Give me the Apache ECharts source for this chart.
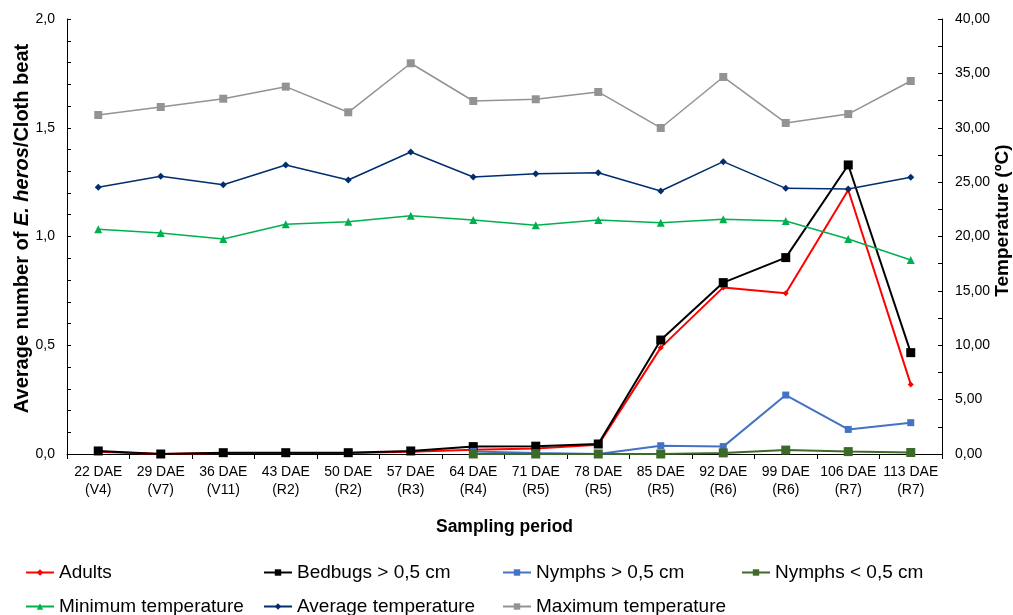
<!DOCTYPE html>
<html>
<head>
<meta charset="utf-8">
<script src="https://cdn.jsdelivr.net/npm/echarts@6/dist/echarts.min.js"></script>
<style>
    html, body { margin: 0; padding: 0; background: #fff; }
    #chart_graphic { width: 1013px; height: 615px; }
</style>
</head>
<body>
<div id="chart_graphic"></div>
<script>
/*
    data
        categories
        series (left axis: insects, right axis: temperature)
*/
const categories = ['22 DAE\n(V4)', '29 DAE\n(V7)', '36 DAE\n(V11)', '43 DAE\n(R2)', '50 DAE\n(R2)', '57 DAE\n(R3)', '64 DAE\n(R4)',
    '71 DAE\n(R5)', '78 DAE\n(R5)', '85 DAE\n(R5)', '92 DAE\n(R6)', '99 DAE\n(R6)', '106 DAE\n(R7)', '113 DAE\n(R7)'];

const adults = [0.010, 0, 0.005, 0.005, 0.005, 0.010, 0.020, 0.025, 0.042, 0.489, 0.766, 0.739, 1.214, 0.320];
const bedbugs = [0.014, 0, 0.006, 0.006, 0.006, 0.014, 0.034, 0.036, 0.046, 0.524, 0.788, 0.903, 1.329, 0.466];
const nymphs_large = [null, null, null, null, null, null, 0.012, 0.005, 0, 0.038, 0.034, 0.271, 0.113, 0.144];
const nymphs_small = [null, null, null, null, null, null, 0, 0, 0, 0, 0.005, 0.018, 0.011, 0.007];

const temp_min = [20.66, 20.32, 19.77, 21.12, 21.36, 21.91, 21.52, 21.03, 21.52, 21.27, 21.58, 21.43, 19.77, 17.84];
const temp_avg = [24.52, 25.54, 24.76, 26.57, 25.20, 27.77, 25.47, 25.77, 25.87, 24.18, 26.88, 24.43, 24.37, 25.44];
const temp_max = [31.17, 31.91, 32.67, 33.78, 31.42, 35.93, 32.46, 32.62, 33.29, 29.98, 34.67, 30.44, 31.26, 34.30];

const font = "'Liberation Sans', Arial, sans-serif";

// name, data, axis, color, symbol, size, width
const series_cnf = [
    ['Adults', adults, 0, '#ff0000', 'diamond', 6, 2],
    ['Bedbugs > 0,5 cm', bedbugs, 0, '#000000', 'rect', 9, 2],
    ['Nymphs > 0,5 cm', nymphs_large, 0, '#4472c4', 'rect', 7, 2],
    ['Nymphs < 0,5 cm', nymphs_small, 0, '#3d6a28', 'rect', 9, 2],
    ['Minimum temperature', temp_min, 1, '#00b050', 'triangle', 8, 1.5],
    ['Average temperature', temp_avg, 1, '#002e6e', 'diamond', 7, 1.5],
    ['Maximum temperature', temp_max, 1, '#939393', 'rect', 8, 1.5]
];

// legend grid: 4 columns, 2 rows
const legend_left = [25, 263, 502, 741, 25, 263, 502];
const legend_top = [563, 563, 563, 563, 597, 597, 597];

function fnc_comma(value, digits){
    return value.toFixed(digits).replace('.', ',');
}

function fnc_build_series(){
    let series = [];
    for(let i in series_cnf){
        let s = series_cnf[i];
        series.push({
            name: s[0],
            type: 'line',
            yAxisIndex: s[2],
            data: s[1],
            symbol: s[4],
            symbolSize: s[5],
            color: s[3],
            lineStyle: { color: s[3], width: s[6] },
            itemStyle: { color: s[3] },
            connectNulls: false,
            animation: false
        });
    }
    return series;
}

function fnc_build_legends(){
    let legends = [];
    for(let i in series_cnf){
        legends.push({
            data: [series_cnf[i][0]],
            left: legend_left[i],
            top: legend_top[i],
            padding: 0,
            itemWidth: 28,
            itemHeight: 8,
            itemGap: 0,
            textStyle: { fontFamily: font, fontSize: 19, color: '#000' }
        });
    }
    return legends;
}

let axis_line = { show: true, lineStyle: { color: '#000', width: 1 } };

let options = {
    animation: false,
    grid: { left: 67, right: 71, top: 19, bottom: 161, containLabel: false, outerBoundsMode: 'none' },
    legend: fnc_build_legends(),
    xAxis: {
        type: 'category',
        data: categories,
        boundaryGap: true,
        axisLine: axis_line,
        axisTick: { show: true, inside: false, length: 5, lineStyle: { color: '#000' } },
        axisLabel: { interval: 0, margin: 9, fontFamily: font, fontSize: 14, color: '#000', lineHeight: 18 },
        name: 'Sampling period',
        nameLocation: 'middle',
        nameGap: 64,
        nameMoveOverlap: false,
        nameTextStyle: { fontFamily: font, fontSize: 17.5, fontWeight: 'bold', color: '#000' }
    },
    yAxis: [
        {
            type: 'value',
            min: 0,
            max: 2,
            interval: 0.5,
            position: 'left',
            axisLine: axis_line,
            axisTick: { show: true, inside: true, length: 4, lineStyle: { color: '#000' } },
            minorTick: { show: true, splitNumber: 5, length: 4, lineStyle: { color: '#000' } },
            splitLine: { show: false },
            axisLabel: { margin: 12, fontFamily: font, fontSize: 14, color: '#000', formatter: v => fnc_comma(v, 1) },
            name: '{n|Average number of }{i|E. heros}{n|/Cloth beat}',
            nameLocation: 'middle',
            nameRotate: 90,
            nameGap: 35,
            nameMoveOverlap: false,
            nameTextStyle: {
                fontFamily: font, fontSize: 20, fontWeight: 'bold', color: '#000', padding: [0, 0, 0, 16],
                rich: {
                    n: { fontFamily: font, fontSize: 20, fontWeight: 'bold', color: '#000' },
                    i: { fontFamily: font, fontSize: 20, fontWeight: 'bold', fontStyle: 'italic', color: '#000' }
                }
            }
        },
        {
            type: 'value',
            min: 0,
            max: 40,
            interval: 5,
            position: 'right',
            axisLine: axis_line,
            axisTick: { show: true, inside: true, length: 4, lineStyle: { color: '#000' } },
            minorTick: { show: true, splitNumber: 2, length: 4, lineStyle: { color: '#000' } },
            splitLine: { show: false },
            axisLabel: { margin: 13, fontFamily: font, fontSize: 14, color: '#000', formatter: v => fnc_comma(v, 2) },
            name: 'Temperature (ºC)',
            nameLocation: 'middle',
            nameRotate: 90,
            nameGap: 51,
            nameMoveOverlap: false,
            nameTextStyle: { fontFamily: font, fontSize: 19, fontWeight: 'bold', color: '#000', padding: [0, 0, 0, 32] }
        }
    ],
    series: fnc_build_series()
};

let chart = echarts.init(document.getElementById('chart_graphic'), null, { renderer: 'canvas' });
chart.setOption(options);
</script>
</body>
</html>
